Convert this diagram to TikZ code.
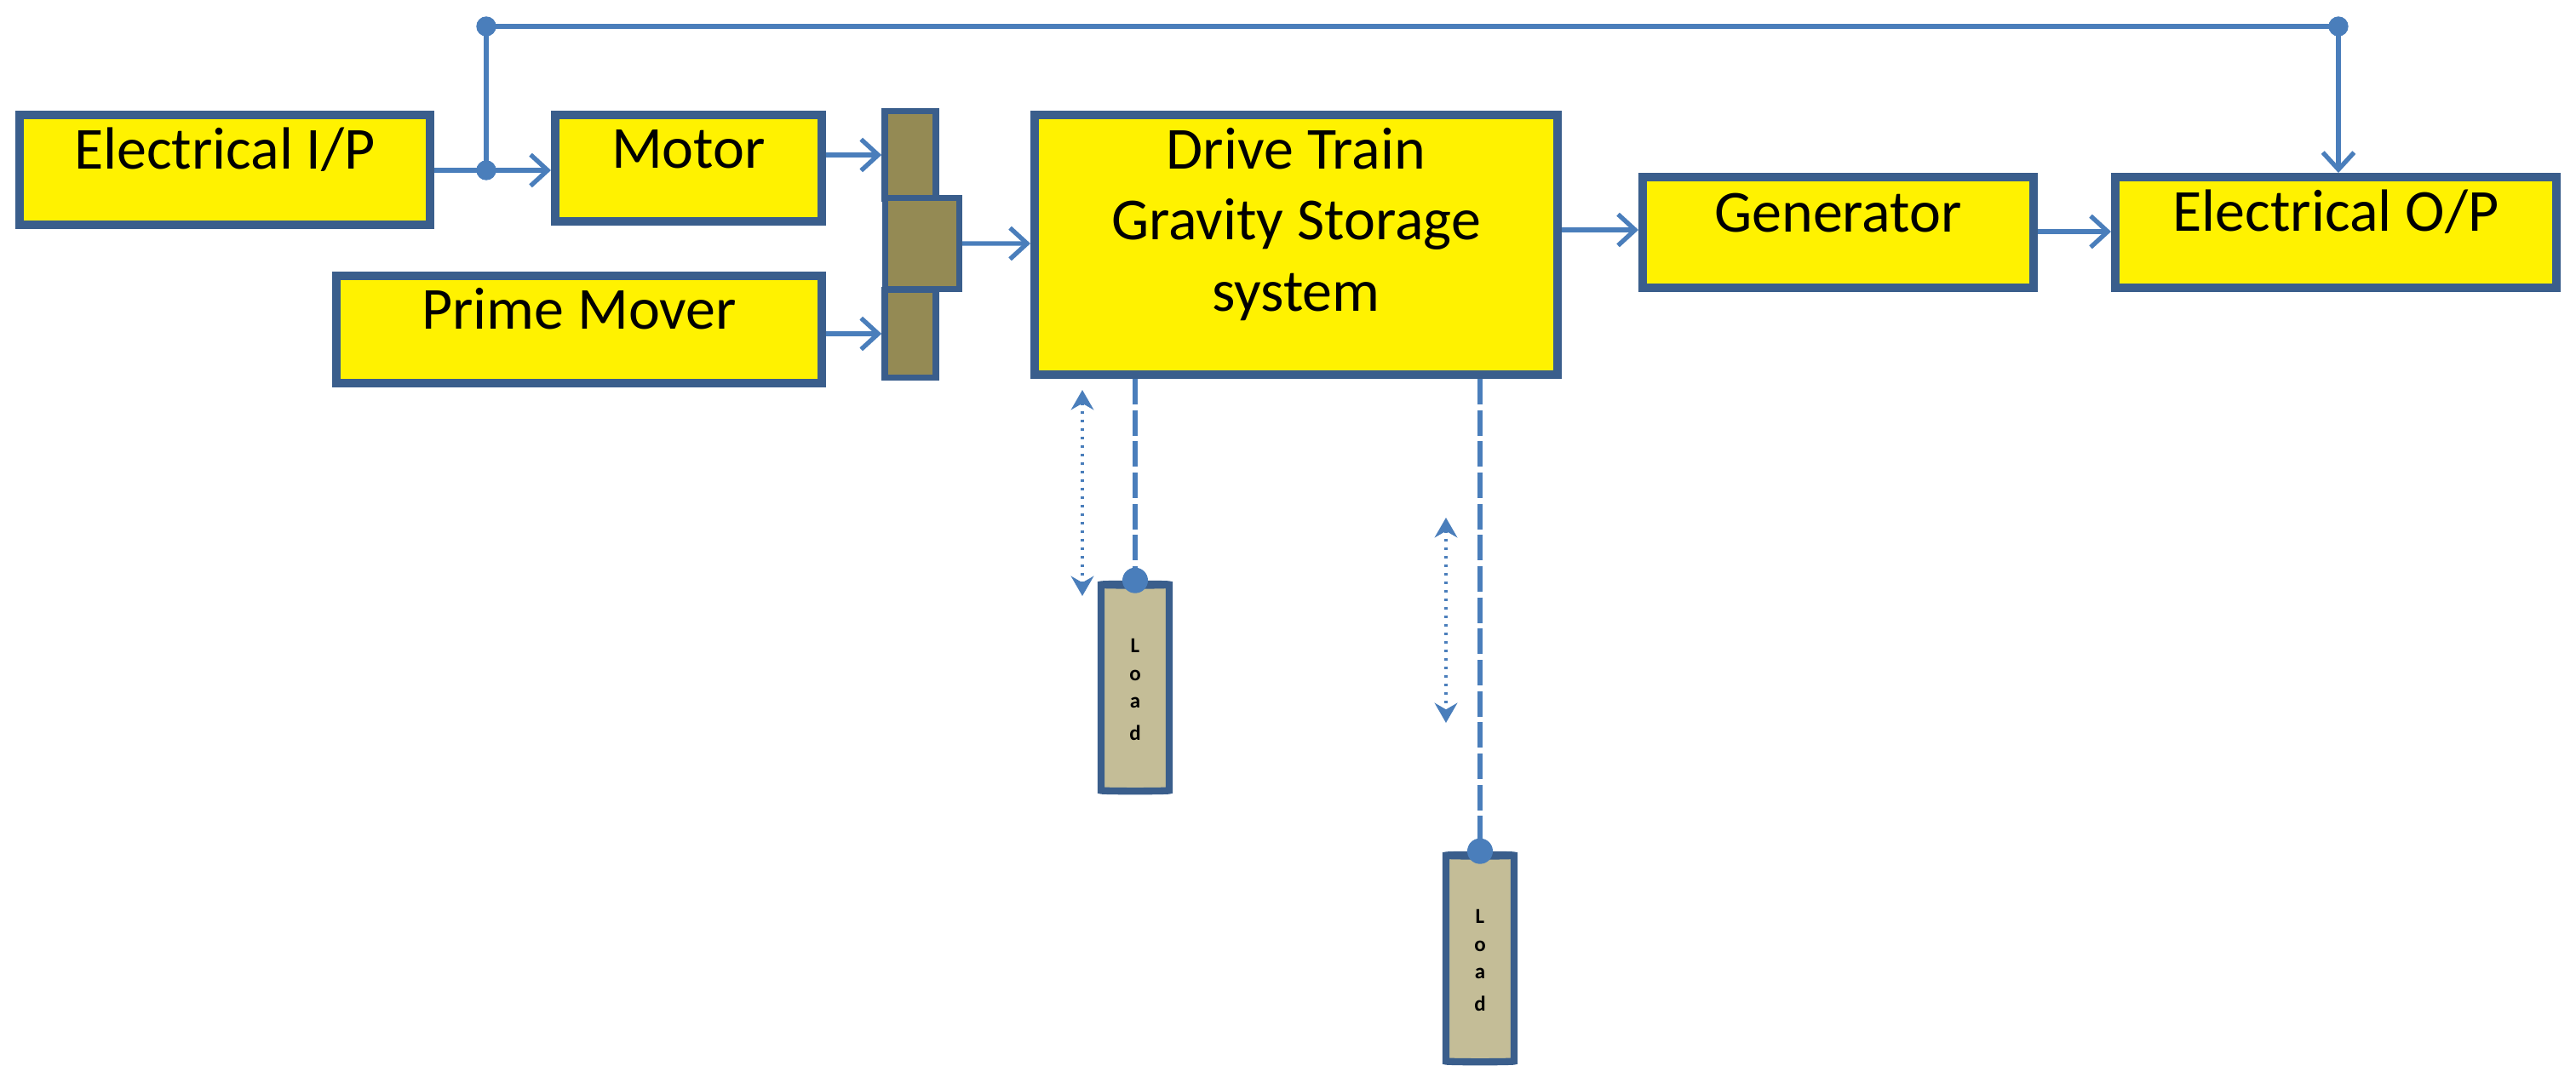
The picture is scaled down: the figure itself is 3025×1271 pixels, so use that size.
\documentclass[tikz,border=0pt]{standalone}
\usepackage{fontspec}
\setmainfont{Carlito}
\usetikzlibrary{arrows.meta,shapes.geometric,fit}
\definecolor{bord}{HTML}{3A5E8C}
\definecolor{arr}{HTML}{4A7EBB}
\definecolor{gear}{HTML}{948A54}
\definecolor{loadc}{HTML}{C4BD97}
\begin{document}
\begin{tikzpicture}[x=0.3pt,y=-0.3pt,
  box/.style={draw=bord,fill=yellow,line width=3pt,inner sep=0pt,font=\fontsize{21}{25}\selectfont,align=center},
  gr/.style={cylinder,draw=bord,fill=gear,line width=2.2pt,cylinder uses custom fill,cylinder body fill=gear,cylinder end fill=gear,aspect=0.35,inner sep=0pt},
  ld/.style={cylinder,shape border rotate=90,draw=bord,line width=2.5pt,cylinder uses custom fill,cylinder body fill=loadc,cylinder end fill=loadc!60,aspect=0.12,minimum height=73pt,minimum width=24pt,inner sep=0pt,font=\fontsize{7.5}{10}\bfseries\selectfont},
  ar/.style={draw=arr,line width=1.6pt,-{Straight Barb[length=6pt,width=11pt,line width=1.6pt]}},
  dbl/.style={draw=arr,line width=1pt,dotted,{Stealth[length=7pt,width=8pt]}-{Stealth[length=7pt,width=8pt]}},
  dsh/.style={draw=arr,line width=2pt,dash pattern=on 9pt off 2pt},
  dot/.style={circle,fill=arr,inner sep=0pt,minimum size=7pt}]
\useasboundingbox (0,0) rectangle (3025,1271);
\node[box,fit={(23,135)(505,264)}] (eip) {Electrical I/P};
\node[box,fit={(652,135)(965,260)}] (mot) {Motor};
\node[box,fit={(395,324)(965,450)}] (pm) {Prime Mover};
\node[box,fit={(1215,135)(1829,440)}] (dt) {Drive Train\\Gravity Storage\\system};
\node[box,fit={(1929,208)(2388,338)}] (gen) {Generator};
\node[box,fit={(2484,208)(3002,338)}] (eop) {Electrical O/P};
\node[gr,minimum height=18pt,minimum width=31pt] (g1) at (1067,182) {};
\node[gr,minimum height=26pt,minimum width=32pt] (g2) at (1081,286) {};
\node[gr,minimum height=18pt,minimum width=31pt] (g3) at (1067,392) {};
\node[ld] (l1) at (1333,810) {\shortstack{L\\[3pt]o\\[3pt]a\\[3pt]d}};
\node[ld] (l2) at (1738,1128) {\shortstack{L\\[3pt]o\\[3pt]a\\[3pt]d}};
\coordinate (j) at (571,200);
\coordinate (tl) at (571,31);
\coordinate (tr) at (2746,31);
\draw[ar] (eip.east |- j) -- (mot.west |- j);
\draw[draw=arr,line width=1.6pt] (j) -- (tl) -- (tr);
\draw[ar] (tr) -- (tr |- eop.north);
\node[dot] at (j) {}; \node[dot] at (tl) {}; \node[dot] at (tr) {};
\draw[ar] (mot.east |- g1) -- (g1.west);
\draw[ar] (pm.east |- g3) -- (g3.west);
\draw[ar] (g2.east) -- (dt.west |- g2);
\draw[ar] (dt.east |- 0,270) -- (gen.west |- 0,270);
\draw[ar] (gen.east |- 0,272) -- (eop.west |- 0,272);
\draw[dsh] (dt.south -| l1.north) -- (l1.north);
\draw[dsh] (dt.south -| l2.north) -- (l2.north);
\node[dot,minimum size=9pt] at (l1.north) {};
\node[dot,minimum size=9pt] at (l2.north) {};
\coordinate (a1) at (1271,458); \coordinate (b1) at (1271,700);
\coordinate (a2) at (1698,608); \coordinate (b2) at (1698,849);
\draw[dbl] (a1) -- (b1);
\draw[dbl] (a2) -- (b2);
\end{tikzpicture}
\end{document}
